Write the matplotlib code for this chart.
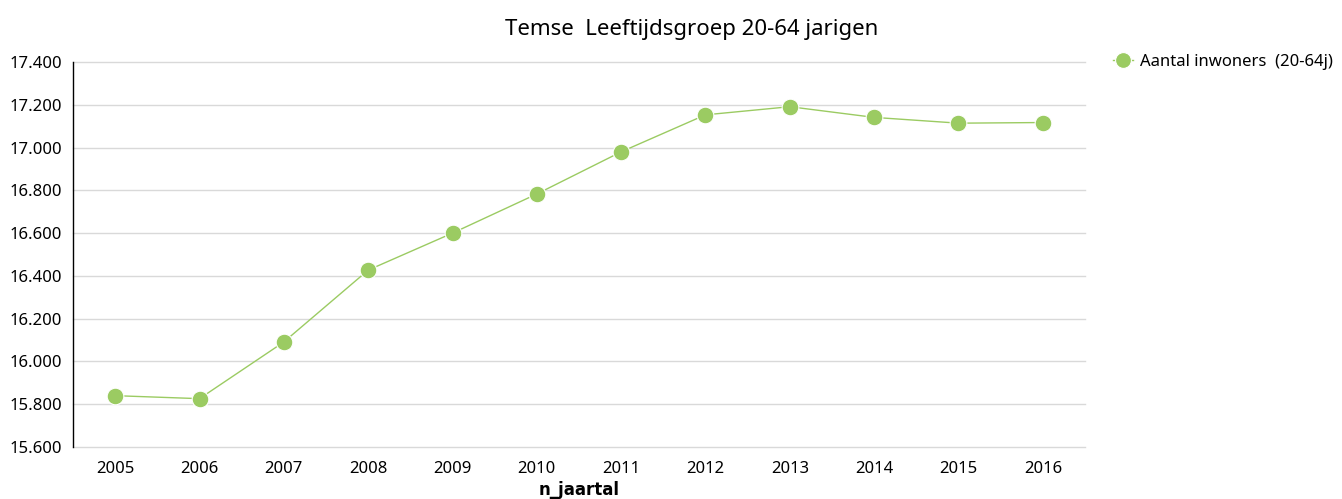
import matplotlib.pyplot as plt
from matplotlib.ticker import FuncFormatter

plt.rcParams['font.family'] = ['Noto Sans', 'DejaVu Sans']

years = ['2005', '2006', '2007', '2008', '2009', '2010',
         '2011', '2012', '2013', '2014', '2015', '2016']
inwoners = [15840, 15826, 16091, 16427, 16600, 16783,
            16980, 17153, 17191, 17141, 17114, 17117]
series_label = 'Aantal inwoners  (20-64j)'
title = 'Temse  Leeftijdsgroep 20-64 jarigen'

green = '#9bcb62'

fig = plt.figure(figsize=(13.42, 4.99), dpi=100)
ax = fig.add_axes([73 / 1342, 1 - 447 / 499, (1085 - 73) / 1342, (447 - 62) / 499])

x = range(len(years))
line, = ax.plot(x, inwoners, color=green, linewidth=1, marker='o',
                markersize=12, markerfacecolor=green, markeredgecolor='white',
                markeredgewidth=0.8, label=series_label, zorder=3)

ax.set_xlim(-0.5, len(years) - 0.5)
ax.set_ylim(15600, 17400)
ax.set_yticks(range(15600, 17401, 200))
ax.yaxis.set_major_formatter(FuncFormatter(lambda v, p: f'{v / 1000:.3f}'))
ax.set_xticks(list(x))
ax.set_xticklabels(years)

ax.grid(axis='y', color='#d9d9d9', linewidth=1)
for gl in ax.get_ygridlines():
    gl.set_clip_on(False)
ax.set_axisbelow(True)
for s in ['top', 'right', 'bottom']:
    ax.spines[s].set_visible(False)
ax.spines['left'].set_color('black')
ax.spines['left'].set_linewidth(1)
ax.tick_params(axis='both', length=0, labelsize=12, colors='black')
ax.tick_params(axis='y', pad=8)
ax.tick_params(axis='x', pad=10)

ax.set_xlabel('n_jaartal', fontsize=12, fontweight='bold',
              family=['DejaVu Sans'], labelpad=3)

fig.text(692 / 1342, 1 - 30 / 499, title, fontsize=16, ha='center', va='center')

fig.legend(handles=[line], loc='center left',
           bbox_to_anchor=(1110 / 1342, 1 - 62 / 499), frameon=False,
           fontsize=12, handlelength=1.2, handletextpad=0.4,
           borderaxespad=0, borderpad=0.2, markerscale=0.95)

fig.savefig('out.png', dpi=100)
